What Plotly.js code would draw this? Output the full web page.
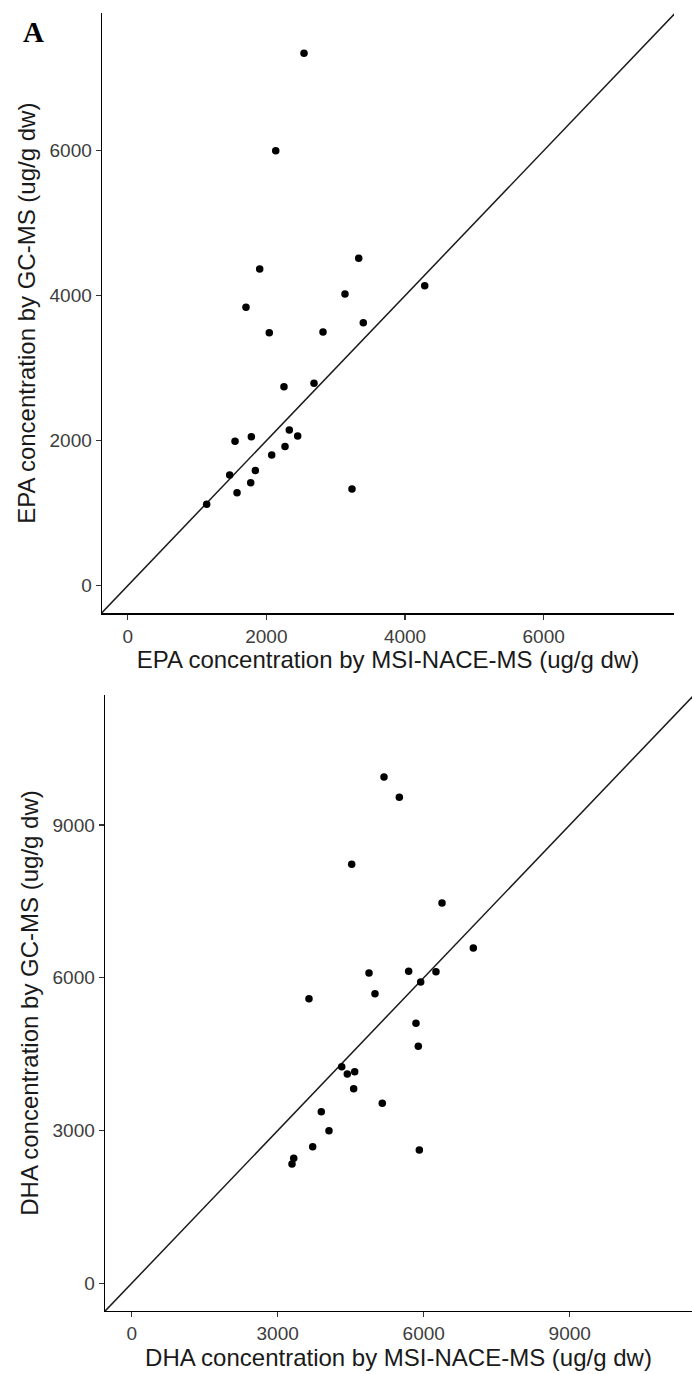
<!DOCTYPE html>
<html>
<head>
<meta charset="utf-8">
<script src="https://cdn.plot.ly/plotly-3.0.1.min.js"></script>
<style>html,body{margin:0;padding:0;background:#fff;}#chart{width:692px;height:1374px;}</style>
</head>
<body>
<div id="chart"></div>
<script>
// EPA panel: MSI-NACE-MS (x) vs GC-MS (y), ug/g dw
const epaMSI = [2543, 2135, 1904, 1706, 3134, 3332, 4284, 3398, 2042, 2817, 2254, 2687, 2331, 2452, 1548, 1783, 2269, 2077, 1471, 1841, 1774, 1577, 1139, 3235];
const epaGC  = [7343, 6000, 4368, 3840, 4023, 4516, 4138, 3628, 3490, 3500, 2745, 2792, 2148, 2065, 1992, 2055, 1918, 1803, 1527, 1587, 1421, 1283, 1123, 1334];
// DHA panel
const dhaMSI = [5184, 5499, 4520, 6376, 7019, 4876, 5691, 6252, 5938, 4999, 5841, 3643, 5889, 4315, 4430, 4582, 4561, 5149, 5910, 3896, 4054, 3719, 3329, 3294];
const dhaGC  = [9943, 9544, 8228, 7469, 6585, 6094, 6127, 6119, 5917, 5687, 5106, 5589, 4654, 4254, 4110, 4156, 3822, 3535, 2618, 3370, 2997, 2683, 2455, 2343];

const epaTicks = [0, 2000, 4000, 6000];
const dhaTicks = [0, 3000, 6000, 9000];

const epaXRange = [-371, 7880], epaYRange = [-381, 7899];
const dhaXRange = [-548, 11512], dhaYRange = [-544, 11553];

const panelLabel = 'A';
const epaXTitle = 'EPA concentration by MSI-NACE-MS (ug/g dw)';
const epaYTitle = 'EPA concentration by GC-MS (ug/g dw)';
const dhaXTitle = 'DHA concentration by MSI-NACE-MS (ug/g dw)';
const dhaYTitle = 'DHA concentration by GC-MS (ug/g dw)';

const FONT = 'Liberation Sans, Arial, Helvetica, sans-serif';
const W = 692, H = 1374;

function idLine(xr, yr, xa, ya) {
  const lo = Math.min(xr[0], yr[0]), hi = Math.max(xr[1], yr[1]);
  return {x: [lo, hi], y: [lo, hi], xaxis: xa, yaxis: ya, mode: 'lines',
          line: {color: '#1a1a1a', width: 1.5}, hoverinfo: 'skip', showlegend: false};
}
function pts(x, y, xa, ya) {
  return {x: x, y: y, xaxis: xa, yaxis: ya, mode: 'markers', type: 'scatter',
          marker: {color: '#000', size: 7.5}, showlegend: false};
}
function axis(dom, rng, ticks, title, anchor, isX) {
  return {
    domain: dom, range: rng, anchor: anchor,
    tickmode: 'array', tickvals: ticks, ticktext: ticks.map(String),
    showline: true, linecolor: '#000', linewidth: 1.4,
    ticks: 'outside', ticklen: 5, tickwidth: 1.2, tickcolor: '#333',
    showgrid: false, zeroline: false, automargin: false,
    tickfont: {family: FONT, size: 19, color: '#3d3d3d'},
    title: {text: title, font: {family: FONT, size: 24, color: '#1a1a1a'}, standoff: isX ? 5 : 7}
  };
}

const data = [
  idLine(epaXRange, epaYRange, 'x', 'y'),
  pts(epaMSI, epaGC, 'x', 'y'),
  idLine(dhaXRange, dhaYRange, 'x2', 'y2'),
  pts(dhaMSI, dhaGC, 'x2', 'y2')
];

const layout = {
  width: W, height: H,
  margin: {l: 0, r: 0, t: 0, b: 0},
  paper_bgcolor: '#fff', plot_bgcolor: '#fff',
  showlegend: false,
  xaxis: axis([102 / W, 674 / W], epaXRange, epaTicks, epaXTitle, 'y', true),
  yaxis: axis([1 - 613.3 / H, 1 - 13 / H], epaYRange, epaTicks, epaYTitle, 'x', false),
  xaxis2: axis([105 / W, 1], dhaXRange, dhaTicks, dhaXTitle, 'y2', true),
  yaxis2: axis([1 - 1311 / H, 1 - 695 / H], dhaYRange, dhaTicks, dhaYTitle, 'x2', false),
  annotations: [{
    text: '<b>' + panelLabel + '</b>', xref: 'paper', yref: 'paper',
    x: 21 / W, y: 1 - 14 / H, xanchor: 'left', yanchor: 'top', showarrow: false,
    font: {family: 'Liberation Serif, Times New Roman, serif', size: 29, color: '#000'}
  }]
};

Plotly.newPlot('chart', data, layout, {displayModeBar: false, staticPlot: true});
</script>
</body>
</html>
